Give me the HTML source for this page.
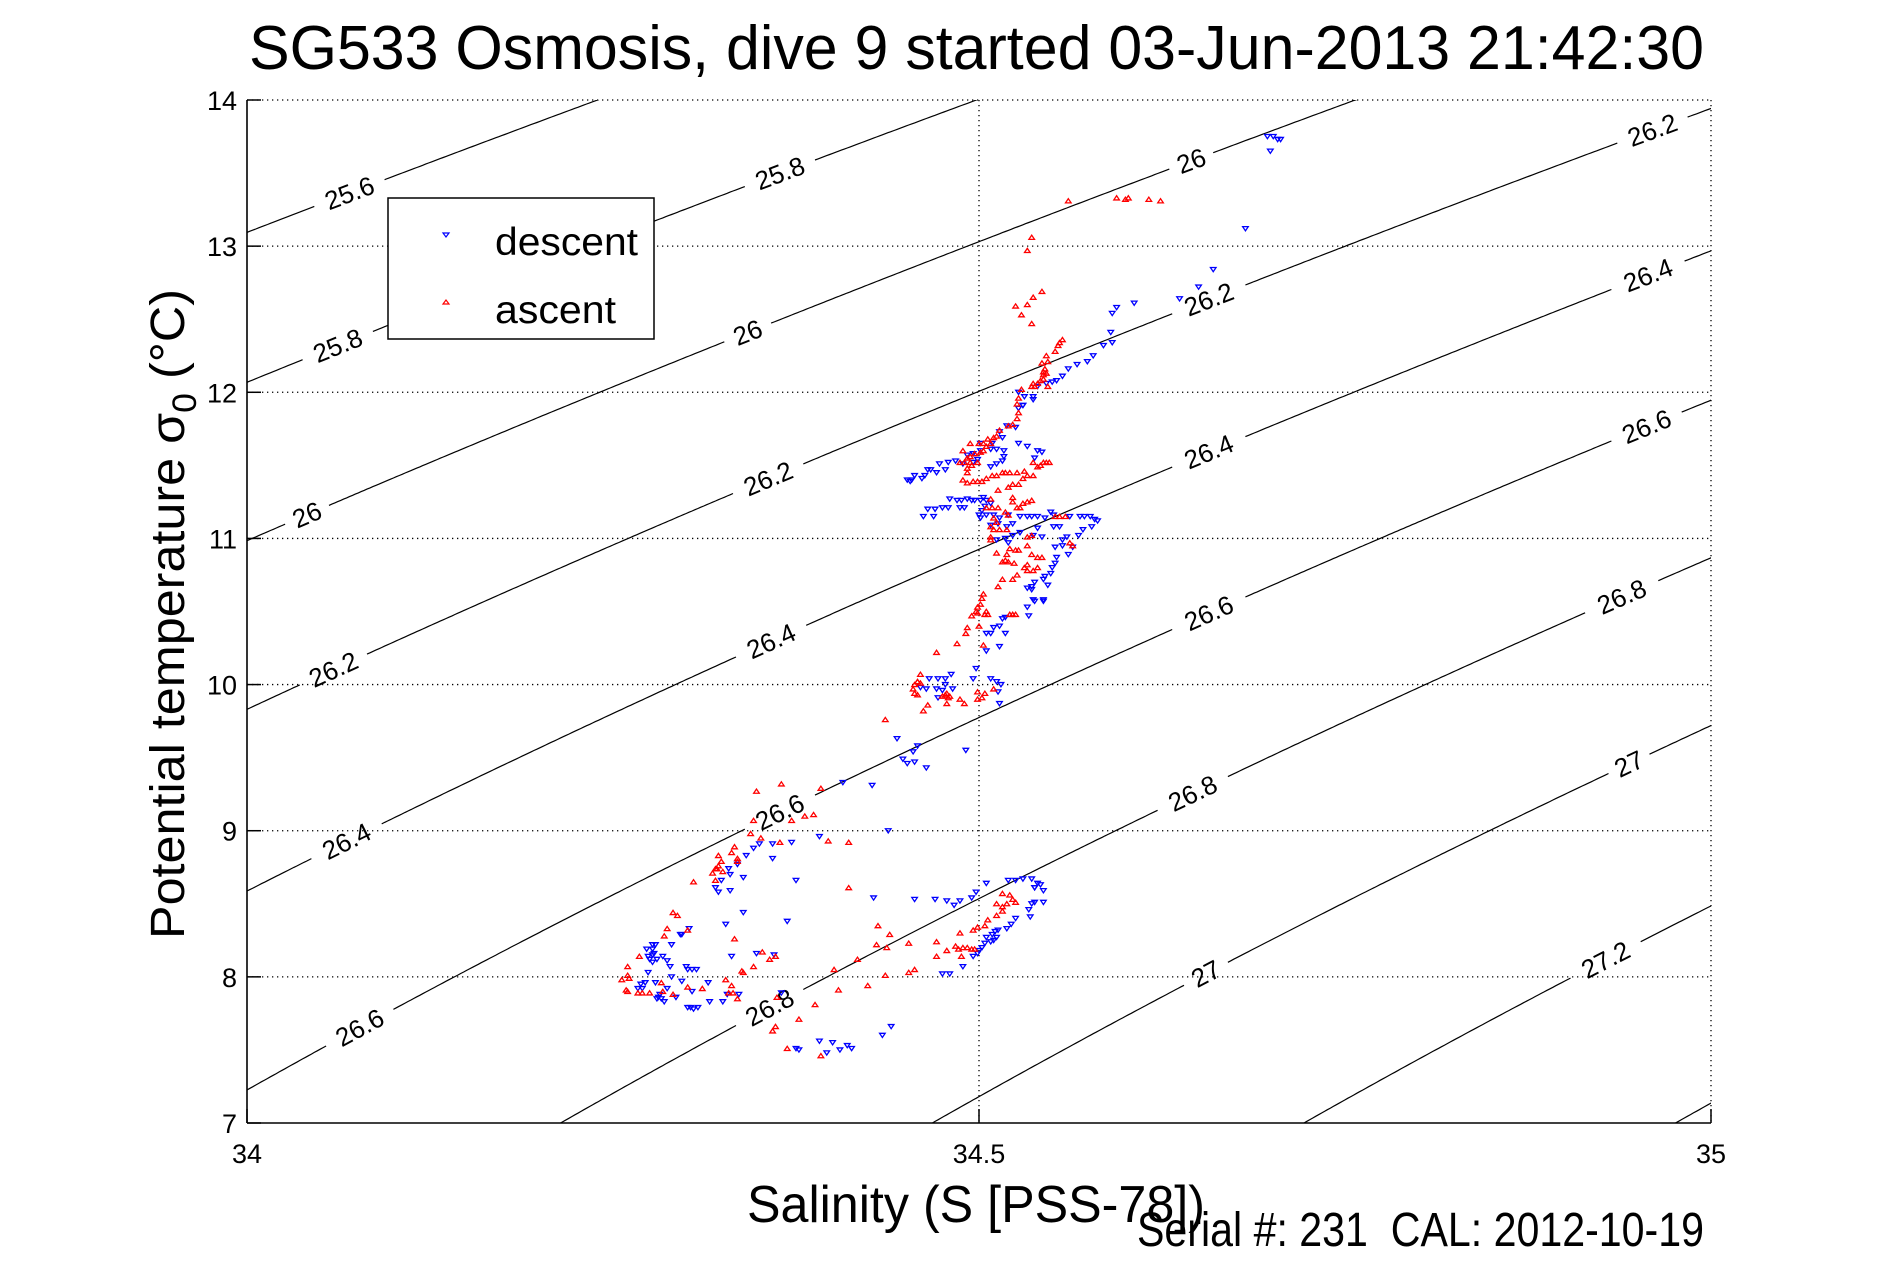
<!DOCTYPE html>
<html><head><meta charset="utf-8"><title>SG533 dive 9 T-S</title>
<style>html,body{margin:0;padding:0;background:#fff;width:1891px;height:1262px;overflow:hidden}svg{display:block}text{font-family:"Liberation Sans",Arial,sans-serif;fill:#000}</style>
</head><body>
<svg id="chart" xmlns="http://www.w3.org/2000/svg" width="1891" height="1262" viewBox="0 0 1891 1262">
<rect width="1891" height="1262" fill="#fff"/>
<defs><clipPath id="plotclip"><rect x="247" y="100" width="1464" height="1023"/></clipPath></defs>
<text x="249" y="69" font-size="62" textLength="1455" lengthAdjust="spacingAndGlyphs">SG533 Osmosis, dive 9 started 03-Jun-2013 21:42:30</text>
<g id="grid"></g>
<g id="contours" clip-path="url(#plotclip)"></g>
<g id="clabels"></g>
<g id="descent"></g>
<g id="ascent"></g>
<g id="axes"></g>
<text transform="translate(184,614) rotate(-90)" text-anchor="middle" font-size="48" textLength="650" lengthAdjust="spacingAndGlyphs">Potential temperature σ<tspan font-size="34" dy="12">0</tspan><tspan dy="-12"> (°C)</tspan></text>
<text x="747" y="1222" font-size="52" textLength="458" lengthAdjust="spacingAndGlyphs">Salinity (S [PSS-78])</text>
<text x="1137" y="1246" font-size="48" textLength="567" lengthAdjust="spacingAndGlyphs" xml:space="preserve">Serial #: 231  CAL: 2012-10-19</text>
<g>
<rect x="388" y="198" width="266" height="141" fill="#fff" stroke="#000" stroke-width="1.5"/>
<polygon points="443,233 449,233 446,237" fill="none" stroke="#00f" stroke-width="1.2"/>
<text x="495" y="255" font-size="39" textLength="143" lengthAdjust="spacingAndGlyphs">descent</text>
<polygon points="443,304 449,304 446,300" fill="none" stroke="#f00" stroke-width="1.2"/>
<text x="495" y="323" font-size="39" textLength="121" lengthAdjust="spacingAndGlyphs">ascent</text>
</g>
</svg>
<script>
const xTicks=[34,34.5,35];
const xTickLabels=["34","34.5","35"];
const yTicks=[7,8,9,10,11,12,13,14];
const yTickLabels=["7","8","9","10","11","12","13","14"];
const contourLevels=[25.4,25.6,25.8,26,26.2,26.4,26.6,26.8,27,27.2,27.4];
const labelLevels=[25.6,25.8,25.8,26,26,26,26.2,26.2,26.2,26.2,26.4,26.4,26.4,26.4,26.6,26.6,26.6,26.6,26.8,26.8,26.8,27,27,27.2];
const labelSal=[34.07,34.364,34.062,34.645,34.342,34.041,34.96,34.657,34.356,34.059,34.957,34.657,34.358,34.068,34.956,34.657,34.364,34.077,34.939,34.646,34.357,34.944,34.655,34.928];
const descS=[34.697,34.701,34.704,34.706,34.699,34.682,34.660,34.650,34.637,34.606,34.594,34.591,34.590,34.591,34.585,34.578,34.574,34.567,34.561,34.557,34.553,34.550,34.546,34.540,34.537,34.531,34.527,34.530,34.527,
34.537,34.530,34.525,34.519,34.514,34.516,34.509,34.501,34.501,34.496,34.492,34.508,34.512,34.517,34.527,34.533,34.540,34.543,34.538,34.517,34.516,34.512,34.508,34.499,34.496,34.489,34.484,34.479,34.473,34.471,34.467,34.465,34.477,34.463,34.461,34.456,34.454,34.451,34.453,
34.480,34.485,34.488,34.492,34.495,34.497,34.501,34.503,34.505,34.508,34.504,34.502,34.500,34.501,34.505,34.510,34.514,34.520,34.479,34.475,34.470,34.465,34.462,34.469,34.487,34.490,34.508,34.513,34.519,34.523,34.528,34.533,34.536,34.540,34.545,34.549,34.551,34.562,34.569,34.572,34.576,34.579,34.581,34.577,34.571,34.568,34.555,34.551,34.540,34.537,34.543,34.528,34.523,34.518,34.520,34.512,34.560,34.557,34.557,34.552,34.564,34.561,34.553,34.552,34.550,34.549,34.545,34.544,34.547,34.538,34.536,34.533,34.537,34.544,
34.536,34.538,34.544,34.533,34.534,34.518,34.516,34.514,34.510,34.508,34.505,34.518,34.514,34.505,34.498,34.496,34.481,34.477,34.472,34.466,34.477,34.482,34.471,34.464,34.460,34.475,34.472,34.508,34.512,34.515,34.513,34.514,34.444,34.458,34.455,34.448,34.451,34.456,34.464,34.491,
34.407,34.427,34.438,34.391,34.372,34.359,34.350,34.346,34.341,34.359,34.335,34.329,34.330,34.324,34.339,34.375,34.320,34.322,34.330,34.339,34.327,34.369,34.428,34.456,34.470,
34.302,34.297,34.290,34.277,34.279,34.273,34.277,34.278,34.277,34.274,34.275,34.277,34.280,34.284,34.287,34.289,34.300,34.301,34.304,34.307,34.274,34.290,34.297,34.315,34.272,34.269,34.267,34.270,34.279,34.287,34.304,34.282,34.281,34.280,34.283,34.285,34.293,34.316,34.325,34.328,34.336,34.301,34.303,34.305,34.308,34.331,34.348,34.360,34.365,34.391,34.400,34.410,34.405,34.396,34.375,34.377,34.413,34.434,34.440,
34.505,34.520,34.525,34.530,34.536,34.540,34.538,34.542,34.538,34.544,34.544,34.538,34.536,34.534,34.535,34.525,34.522,34.519,34.513,34.511,34.509,34.505,34.510,34.512,34.508,34.504,34.502,34.500,34.499,34.496,34.489,34.483,34.487,34.478,34.495,34.498,34.475,34.480,34.296];
const descT=[13.75,13.75,13.73,13.73,13.65,13.12,12.84,12.72,12.64,12.61,12.58,12.54,12.41,12.34,12.32,12.25,12.21,12.19,12.16,12.11,12.08,12.07,12.06,12.04,11.97,11.97,12.00,11.91,11.89,
11.95,11.91,11.76,11.77,11.73,11.69,11.65,11.65,11.60,11.58,11.57,11.61,11.61,11.60,11.65,11.63,11.60,11.59,11.55,11.56,11.53,11.51,11.49,11.54,11.52,11.51,11.53,11.52,11.51,11.45,11.47,11.47,11.47,11.43,11.41,11.43,11.40,11.40,11.39,
11.27,11.26,11.26,11.27,11.26,11.26,11.26,11.28,11.26,11.24,11.22,11.19,11.16,11.14,11.16,11.16,11.14,11.16,11.21,11.21,11.20,11.20,11.15,11.15,11.21,11.21,11.09,11.10,11.08,11.10,11.15,11.15,11.15,11.15,11.14,11.18,11.16,11.15,11.15,11.15,11.15,11.13,11.12,11.08,11.06,11.02,11.08,11.08,11.07,11.02,11.01,11.04,11.02,11.00,10.97,10.99,11.01,10.99,10.95,10.94,10.94,10.89,10.87,10.83,10.80,10.76,10.74,10.72,10.68,10.70,10.67,10.66,10.58,10.58,
10.65,10.57,10.57,10.53,10.47,10.46,10.45,10.40,10.39,10.35,10.35,10.35,10.26,10.23,10.11,10.04,10.07,10.04,10.04,10.04,10.00,9.97,9.97,9.97,9.98,9.96,9.91,10.04,10.02,10.00,9.95,9.87,9.63,9.58,9.54,9.49,9.46,9.47,9.43,9.55,
9.33,9.31,9.00,8.96,8.92,8.91,8.91,8.88,8.83,8.81,8.77,8.74,8.70,8.66,8.68,8.66,8.61,8.58,8.59,8.44,8.36,8.38,8.54,8.53,8.53,
8.33,8.29,8.22,8.22,8.22,8.19,8.19,8.16,8.15,8.14,8.12,8.10,8.12,8.14,8.11,8.07,8.07,8.05,8.05,8.05,8.03,8.00,7.97,7.96,7.96,7.95,7.92,7.92,7.96,7.92,7.90,7.88,7.86,7.85,7.85,7.83,7.86,7.83,7.83,7.88,7.88,7.79,7.79,7.78,7.79,8.14,8.16,8.15,7.89,7.56,7.55,7.53,7.50,7.48,7.51,7.50,7.51,7.60,7.66,
8.64,8.66,8.66,8.67,8.67,8.64,8.61,8.63,8.61,8.59,8.51,8.51,8.50,8.46,8.41,8.40,8.36,8.33,8.32,8.31,8.29,8.27,8.25,8.27,8.24,8.23,8.20,8.18,8.16,8.14,8.07,8.49,8.52,8.52,8.54,8.58,8.02,8.02,8.29];
const ascS=[34.561,34.594,34.600,34.602,34.616,34.624,34.536,34.533,34.543,34.537,34.533,34.525,34.529,34.536,34.557,34.555,34.554,34.552,34.546,34.547,34.543,34.545,34.544,34.546,34.544,34.542,34.540,34.544,34.537,34.536,34.538,34.547,34.529,34.527,34.526,
34.527,34.526,34.523,34.520,34.514,34.512,34.510,34.506,34.503,34.500,34.494,34.508,34.505,34.503,34.501,34.497,34.494,34.492,34.489,34.487,34.490,34.494,34.499,34.495,34.492,34.492,34.489,34.492,34.496,34.499,34.502,34.505,34.509,34.512,34.516,34.518,34.521,34.526,34.531,34.530,34.527,34.523,34.520,34.513,34.537,34.540,34.542,34.544,34.546,34.548,34.537,34.533,
34.523,34.523,34.526,34.528,34.530,34.533,34.536,34.508,34.505,34.509,34.513,34.518,34.520,34.510,34.512,34.508,34.510,34.514,34.519,34.508,34.508,34.512,34.519,34.518,34.516,34.520,34.524,34.521,34.525,34.527,34.533,34.536,34.533,34.536,34.540,34.543,34.533,34.531,34.533,34.537,34.540,34.552,34.555,34.559,34.562,34.564,34.526,34.523,34.516,34.513,34.503,34.502,
34.501,34.499,34.498,34.499,34.495,34.505,34.506,34.504,34.521,34.523,34.525,34.500,34.492,34.491,34.485,34.471,34.503,34.460,34.458,34.458,34.460,34.456,34.455,34.456,34.458,34.465,34.462,34.478,34.477,34.480,34.479,34.475,34.478,34.487,34.490,34.499,34.504,34.499,34.502,34.510,34.436,
34.365,34.348,34.392,34.387,34.381,34.372,34.346,34.344,34.351,34.364,34.397,34.411,34.333,34.322,34.331,34.324,34.335,34.335,34.320,34.321,34.318,34.325,34.320,34.411,34.431,34.439,34.333,34.305,34.322,34.291,34.294,34.287,34.285,34.301,
34.268,34.260,34.260,34.261,34.256,34.283,34.259,34.260,34.267,34.270,34.275,34.284,34.291,34.301,34.311,34.327,34.331,34.329,34.332,34.335,34.338,34.339,34.346,34.352,34.357,34.361,34.362,34.361,34.359,34.377,34.388,34.404,34.424,34.436,34.452,34.417,34.401,34.369,34.392,34.430,34.437,34.452,
34.516,34.521,34.523,34.525,34.519,34.516,34.512,34.516,34.512,34.506,34.504,34.499,34.496,34.487,34.471,34.484,34.486,34.489,34.492,34.495,34.497,34.478,34.471,34.488,34.456];
const ascT=[13.31,13.33,13.32,13.33,13.32,13.31,13.06,12.97,12.69,12.65,12.60,12.59,12.53,12.47,12.36,12.34,12.32,12.28,12.25,12.21,12.20,12.16,12.14,12.13,12.12,12.08,12.06,12.09,12.06,12.04,12.04,12.04,12.02,11.96,11.92,
11.86,11.82,11.78,11.77,11.74,11.70,11.69,11.68,11.65,11.65,11.65,11.65,11.63,11.60,11.59,11.58,11.56,11.55,11.60,11.52,11.52,11.52,11.52,11.50,11.48,11.45,11.40,11.38,11.39,11.39,11.39,11.41,11.43,11.43,11.45,11.45,11.45,11.45,11.46,11.41,11.37,11.37,11.35,11.33,11.52,11.49,11.50,11.52,11.52,11.52,11.43,11.43,
11.28,11.25,11.21,11.21,11.24,11.25,11.26,11.27,11.21,11.21,11.21,11.18,11.16,11.14,11.11,11.08,11.06,11.06,11.06,11.01,10.99,10.90,10.89,10.85,10.84,10.84,10.83,10.93,10.92,10.92,11.01,11.02,10.95,10.89,10.87,10.87,10.82,10.80,10.78,10.78,10.80,11.15,11.15,11.15,10.97,10.95,10.75,10.72,10.72,10.67,10.62,10.59,
10.55,10.53,10.50,10.49,10.47,10.50,10.48,10.48,10.48,10.48,10.48,10.40,10.39,10.35,10.28,10.22,10.27,10.07,10.02,10.02,10.01,10.00,9.97,9.94,9.93,9.86,9.82,9.94,9.93,9.92,9.91,9.92,9.87,9.90,9.87,9.95,9.94,9.90,9.91,9.97,9.76,
9.32,9.27,9.29,9.11,9.10,9.07,9.07,8.98,8.95,8.92,8.93,8.92,8.89,8.83,8.85,8.79,8.81,8.79,8.74,8.74,8.71,8.72,8.66,8.61,8.35,8.29,8.26,8.65,8.76,8.44,8.42,8.33,8.28,8.32,
8.14,8.07,8.01,7.99,7.98,7.96,7.91,7.90,7.89,7.89,7.89,7.90,7.88,7.93,7.92,7.98,7.94,7.89,7.89,7.85,8.04,8.03,8.07,8.17,8.12,8.14,7.86,7.66,7.63,7.71,7.81,7.91,7.94,8.01,8.03,8.12,8.05,7.51,7.46,8.22,8.20,8.23,
8.57,8.56,8.53,8.51,8.50,8.48,8.50,8.45,8.42,8.39,8.35,8.34,8.32,8.30,8.24,8.21,8.19,8.20,8.20,8.19,8.19,8.18,8.14,8.14,8.05];

const NS="http://www.w3.org/2000/svg";
const X0=247,X1=1711,Y0=1123,Y1=100;
function xs(s){return X0+(s-34)*(X1-X0);}
function ys(t){return Y0-(t-7)*(Y0-Y1)/7;}
function mk(tag,attrs,parent){const e=document.createElementNS(NS,tag);for(const k in attrs)e.setAttribute(k,attrs[k]);parent.appendChild(e);return e;}
function sigma0(S,T){
 const rw=999.842594+6.793952e-2*T-9.095290e-3*T*T+1.001685e-4*T**3-1.120083e-6*T**4+6.536332e-9*T**5;
 const A=8.24493e-1-4.0899e-3*T+7.6438e-5*T*T-8.2467e-7*T**3+5.3875e-9*T**4;
 const B=-5.72466e-3+1.0227e-4*T-1.6546e-6*T*T;
 const C=4.8314e-4;
 return rw+A*S+B*Math.pow(S,1.5)+C*S*S-1000;
}
function tempFor(sig,S){let lo=-2,hi=35;for(let i=0;i<60;i++){const m=(lo+hi)/2;if(sigma0(S,m)>sig)lo=m;else hi=m;}return (lo+hi)/2;}

const grid=document.getElementById('grid');
yTicks.forEach((t,i)=>{if(t===7)return;
 const l=mk('line',{x1:X0,x2:X1,y1:ys(t),y2:ys(t),stroke:'#000','stroke-width':1.3,'stroke-dasharray':'1.3 3.7'},grid);
 
 });
xTicks.forEach((s,i)=>{if(s===34)return;
 const l=mk('line',{x1:xs(s),x2:xs(s),y1:Y1,y2:Y0,stroke:'#000','stroke-width':1.3,'stroke-dasharray':'1.3 3.7'},grid);
 
 });

const labels=labelLevels.map((lv,i)=>{const s=labelSal[i];const t=tempFor(lv,s);const t2=tempFor(lv,s+0.01);
 const px=xs(s),py=ys(t);const ang=Math.atan2(ys(t2)-py,xs(s+0.01)-px)*180/Math.PI;
 const txt=String(lv);const w=txt.length*14.5;return {lv,px,py,ang,txt,r:w/2+8};});

const cg=document.getElementById('contours');
contourLevels.forEach(lv=>{
 const myl=labels.filter(L=>L.lv===lv);
 let seg=[];const segs=[];
 for(let s=33.98;s<=35.02;s+=0.002){const px=xs(s),py=ys(tempFor(lv,s));
  const hide=myl.some(L=>Math.hypot(px-L.px,py-L.py)<L.r);
  if(hide){if(seg.length>1)segs.push(seg);seg=[];}else seg.push(px.toFixed(1)+','+py.toFixed(1));}
 if(seg.length>1)segs.push(seg);
 segs.forEach(sg=>{const p=mk('polyline',{points:sg.join(' '),fill:'none',stroke:'#000','stroke-width':1.2},cg);
  
  });
});
const lg=document.getElementById('clabels');
labels.forEach(L=>{const t=mk('text',{x:L.px,y:L.py+9,'text-anchor':'middle','font-size':26,transform:`rotate(${L.ang.toFixed(2)} ${L.px.toFixed(1)} ${L.py.toFixed(1)})`},lg);
 t.textContent=L.txt;
 
 });

const dg=document.getElementById('descent');
descS.forEach((s,i)=>{const x=xs(s),y=ys(descT[i]);
 const p=mk('polygon',{points:`${x-2.8},${y-2} ${x+2.8},${y-2} ${x},${y+2.2}`,fill:'none',stroke:'#00f','stroke-width':1.3},dg);
 
 });
const ag=document.getElementById('ascent');
ascS.forEach((s,i)=>{const x=xs(s),y=ys(ascT[i]);
 const p=mk('polygon',{points:`${x-2.8},${y+2} ${x+2.8},${y+2} ${x},${y-2.2}`,fill:'none',stroke:'#f00','stroke-width':1.3},ag);
 
 });

const ax=document.getElementById('axes');
const la=mk('line',{x1:X0,x2:X0,y1:Y1,y2:Y0,stroke:'#000','stroke-width':1.6},ax);


const lb=mk('line',{x1:X0,x2:X1,y1:Y0,y2:Y0,stroke:'#000','stroke-width':1.6},ax);


yTicks.forEach((t,i)=>{const y=ys(t);
 const tk=mk('line',{x1:X0,x2:X0+14,y1:y,y2:y,stroke:'#000','stroke-width':1.5},ax);
 
 
 const tx=mk('text',{x:237,y:y+10,'text-anchor':'end','font-size':27},ax);
 tx.textContent=yTickLabels[i];
 
 });
xTicks.forEach((s,i)=>{const x=xs(s);
 const tk=mk('line',{x1:x,x2:x,y1:Y0,y2:Y0-14,stroke:'#000','stroke-width':1.5},ax);
 
 
 const tx=mk('text',{x:x,y:1163,'text-anchor':'middle','font-size':27},ax);
 tx.textContent=xTickLabels[i];
 
 });
</script>
</body></html>
